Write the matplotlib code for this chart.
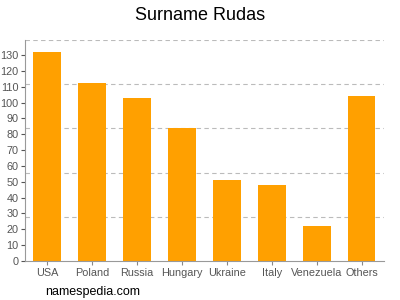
import matplotlib.pyplot as plt
import numpy as np

plt.rcParams['font.family'] = ['Liberation Sans', 'DejaVu Sans']

countries = ['USA', 'Poland', 'Russia', 'Hungary', 'Ukraine', 'Italy', 'Venezuela', 'Others']
counts = [132, 112, 103, 84, 51, 48, 22, 104]
yticks = list(range(0, 140, 10))

fig = plt.figure(figsize=(4, 3), dpi=100)
ax = fig.add_axes([0.062, 0.13, 0.898, 0.737])

x = np.arange(len(countries))
ax.bar(x, counts, width=0.62, color='#FFA000', zorder=2)

ymax = 139.5
ax.set_xlim(-0.5, len(countries) - 0.5)
ax.set_ylim(0, ymax)
# dashed grid at fifths of the axis, not at tick values
for k in range(1, 6):
    ax.axhline(ymax * k / 5, color='#bbbbbb', lw=0.8, ls=(0, (4, 3)), zorder=1)

ax.set_yticks(yticks)
ax.set_xticks(x)
ax.set_xticklabels(countries)
ax.tick_params(colors='#555555', labelsize=7.8, length=3, width=0.8, pad=1.5)
ax.tick_params(axis='x', colors='#888888', labelcolor='#555555', pad=2)
for s in ['top', 'right']:
    ax.spines[s].set_visible(False)
for s in ['left', 'bottom']:
    ax.spines[s].set_color('#999999')
    ax.spines[s].set_linewidth(0.8)

fig.text(0.5, 0.95, 'Surname Rudas', ha='center', va='center', fontsize=13)
fig.text(0.113, 0.028, 'namespedia.com', ha='left', va='center', fontsize=9)

fig.savefig('out.png', dpi=100)
